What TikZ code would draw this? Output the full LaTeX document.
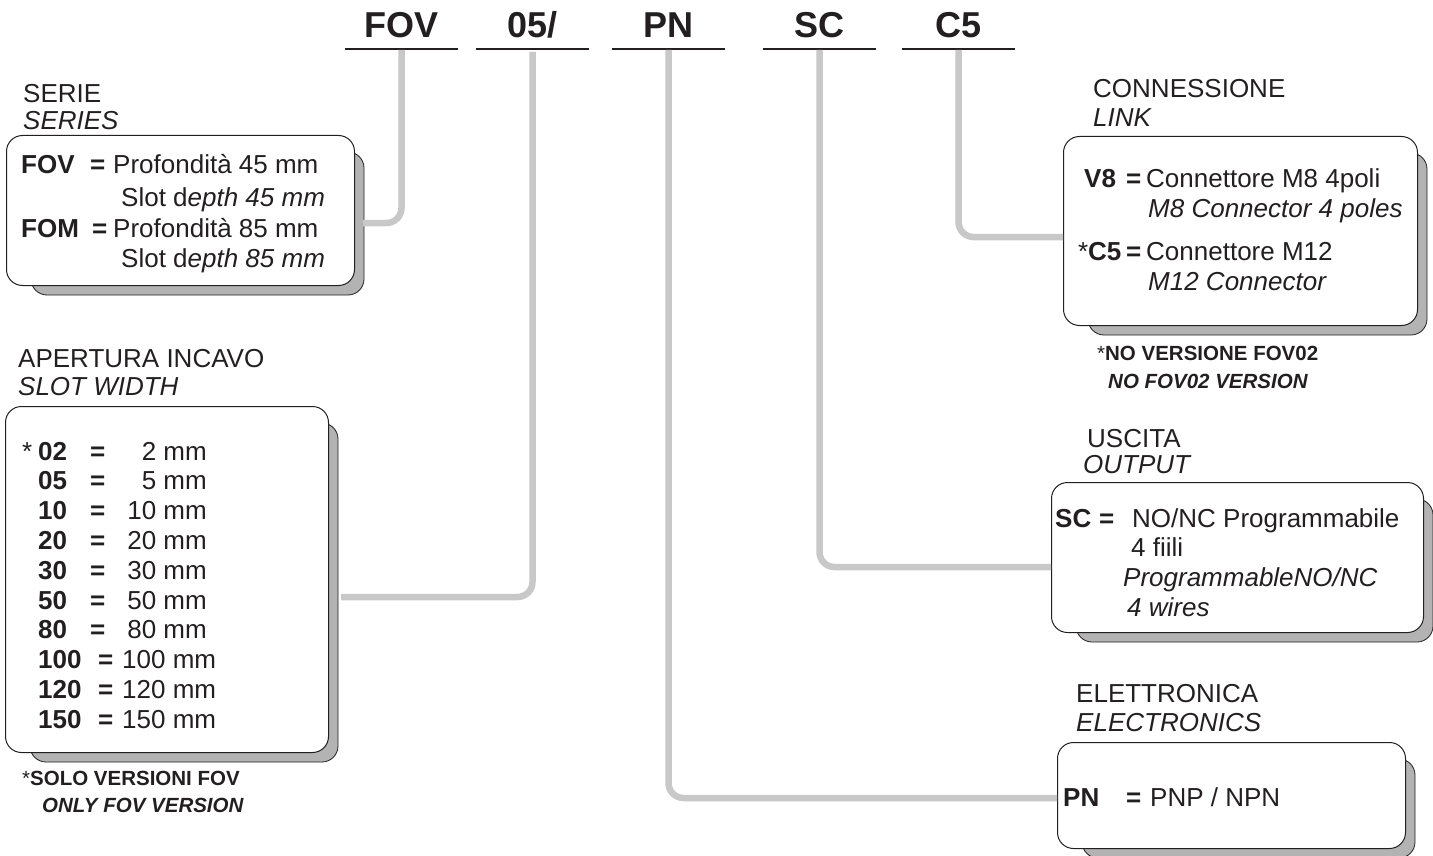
\documentclass[tikz,border=0pt]{standalone}
\usepackage{fontspec}
\setmainfont{Liberation Sans}
\usetikzlibrary{backgrounds}
\definecolor{ink}{HTML}{231F20}
\definecolor{conncol}{HTML}{C8C8C8}
\definecolor{shadecol}{HTML}{B3B3B3}
\tikzset{
  body/.style={font=\fontsize{26}{31}\selectfont, text=ink, inner sep=0pt, anchor=base west},
  bodyit/.style={body, font=\fontsize{26}{31}\selectfont\itshape},
  bodybf/.style={body, font=\fontsize{26}{31}\selectfont\bfseries},
  notebf/.style={font=\fontsize{20.5}{24}\selectfont\bfseries, text=ink, inner sep=0pt, anchor=base west},
  notebfit/.style={notebf, font=\fontsize{20.5}{24}\selectfont\bfseries\itshape},
  hdr/.style={font=\fontsize{36}{40}\selectfont\bfseries, text=ink, inner sep=0pt, minimum width=113pt, anchor=base},
  uline/.style={draw=ink, line width=2.3pt},
  infobox/.style={draw=ink, line width=1pt, fill=white, rounded corners=16pt, inner sep=0pt, anchor=north west},
  shadowbox/.style={draw=ink, line width=0.8pt, fill=shadecol, rounded corners=16pt},
  conn/.style={draw=conncol, line width=6.5pt, rounded corners=15pt}
}
\begin{document}
\begin{tikzpicture}[x=1pt,y=-1pt]
\useasboundingbox (0,0) rectangle (1433,856);

% ---------- header ----------
\node[hdr] (hFOV) at (401.5,38) {FOV};
\node[hdr] (h05)  at (532.5,38) {05/};
\node[hdr] (hPN)  at (668.5,38) {PN};
\node[hdr] (hSC)  at (819.5,38) {SC};
\node[hdr] (hC5)  at (958.5,38) {C5};
\foreach \h in {hFOV,h05,hPN,hSC,hC5}
  \draw[uline] ([yshift=-11pt]\h.base west) -- ([yshift=-11pt]\h.base east);

% ---------- boxes ----------
\node[infobox, minimum width=348pt, minimum height=150pt] (series) at (6,135) {};
\node[infobox, minimum width=323pt, minimum height=346pt] (slot) at (5,406) {};
\node[infobox, minimum width=354pt, minimum height=189pt] (link) at (1063,136) {};
\node[infobox, minimum width=372pt, minimum height=150pt] (outp) at (1051,482) {};
\node[infobox, minimum width=348pt, minimum height=106pt] (elec) at (1057,742) {};

\begin{scope}[on background layer]
  \foreach \b in {series,slot,link,outp,elec}
    \draw[shadowbox] ([xshift=25pt,yshift=-17pt]\b.north west) rectangle ([xshift=9pt,yshift=-9pt]\b.south east);
\end{scope}

% ---------- connectors ----------
\coordinate (seriesin) at (363,223);
\coordinate (slotin) at (341,597);
\coordinate (pnin) at (1057,798);
\coordinate (scin) at (1051,567);
\coordinate (c5in) at (1063,237);
\draw[conn] ([yshift=-12pt]hFOV.base) |- (seriesin);
\draw[conn] ([yshift=-14pt]h05.base) |- (slotin);
\draw[conn] ([yshift=-12pt]hPN.base) |- (pnin);
\draw[conn] ([yshift=-12pt]hSC.base) |- (scin);
\draw[conn] ([yshift=-12pt]hC5.base) |- (c5in);

% ---------- SERIE ----------
\node[body] (t1) at (23,103) {SERIE};
\node[bodyit] (t2) at (23,130) {SERIES};
\node[bodybf] (s1k) at (21,174) {FOV};
\node[bodybf] (s1e) at (90,174) {=};
\node[body] (s1v) at (113,174) {Profondità 45 mm};
\node[body] (s2v) at (121,206) {Slot d\textit{epth 45 mm}};
\node[bodybf] (s3k) at (21,237) {FOM};
\node[bodybf] (s3e) at (92,237) {=};
\node[body] (s3v) at (113,237) {Profondità 85 mm};
\node[body] (s4v) at (121,267) {Slot d\textit{epth 85 mm}};

% ---------- APERTURA INCAVO ----------
\node[body] (t3) at (18,367) {APERTURA INCAVO};
\node[bodyit] (t4) at (18,395) {SLOT WIDTH};
\node[body] (star1) at (22,460) {*};
\foreach \n/\v [count=\i from 0] in {02/2,05/5,10/10,20/20,30/30,50/50,80/80}{
  \node[bodybf] (sn\i) at (38,{460+29.8*\i}) {\n};
  \node[bodybf] (se\i) at (90,{460+29.8*\i}) {=};
  \node[body, anchor=base east] (sv\i) at (207,{460+29.8*\i}) {\v\ mm};
}
\foreach \n [count=\i from 7] in {100,120,150}{
  \node[bodybf] (sn\i) at (38,{460+29.8*\i}) {\n};
  \node[bodybf] (se\i) at (98,{460+29.8*\i}) {=};
  \node[body] (sv\i) at (122,{460+29.8*\i}) {\n\ mm};
}
\node[notebf] (n1) at (22,785) {{\mdseries*}SOLO VERSIONI FOV};
\node[notebfit] (n2) at (42,812) {ONLY FOV VERSION};

% ---------- CONNESSIONE ----------
\node[body] (t5) at (1093,98) {CONNESSIONE};
\node[bodyit] (t6) at (1093,127) {LINK};
\node[bodybf] (c1k) at (1084,188) {V8};
\node[bodybf] (c1e) at (1126,188) {=};
\node[body] (c1v) at (1146,188) {Connettore M8 4poli};
\node[bodyit] (c2v) at (1148,217) {M8 Connector 4 poles};
\node[body] (star2) at (1078,260) {*};
\node[bodybf] (c3k) at (1088,260) {C5};
\node[bodybf] (c3e) at (1126,260) {=};
\node[body] (c3v) at (1146,260) {Connettore M12};
\node[bodyit] (c4v) at (1148,290) {M12 Connector};
\node[notebf] (n3) at (1097,360) {{\mdseries*}NO VERSIONE FOV02};
\node[notebfit] (n4) at (1108,388) {NO FOV02 VERSION};

% ---------- USCITA ----------
\node[body] (t7) at (1087,447) {USCITA};
\node[bodyit] (t8) at (1083,473) {OUTPUT};
\node[bodybf] (o1k) at (1055,527) {SC};
\node[bodybf] (o1e) at (1099,527) {=};
\node[body] (o1v) at (1132,527) {NO/NC Programmabile};
\node[body] (o2v) at (1131,556) {4 fiili};
\node[bodyit] (o3v) at (1123,586) {ProgrammableNO/NC};
\node[bodyit] (o4v) at (1127,616) {4 wires};

% ---------- ELETTRONICA ----------
\node[body] (t9) at (1076,702) {ELETTRONICA};
\node[bodyit] (t10) at (1076,731) {ELECTRONICS};
\node[bodybf] (e1k) at (1063,806) {PN};
\node[bodybf] (e1e) at (1126,806) {=};
\node[body] (e1v) at (1150,806) {PNP / NPN};
\end{tikzpicture}
\end{document}
